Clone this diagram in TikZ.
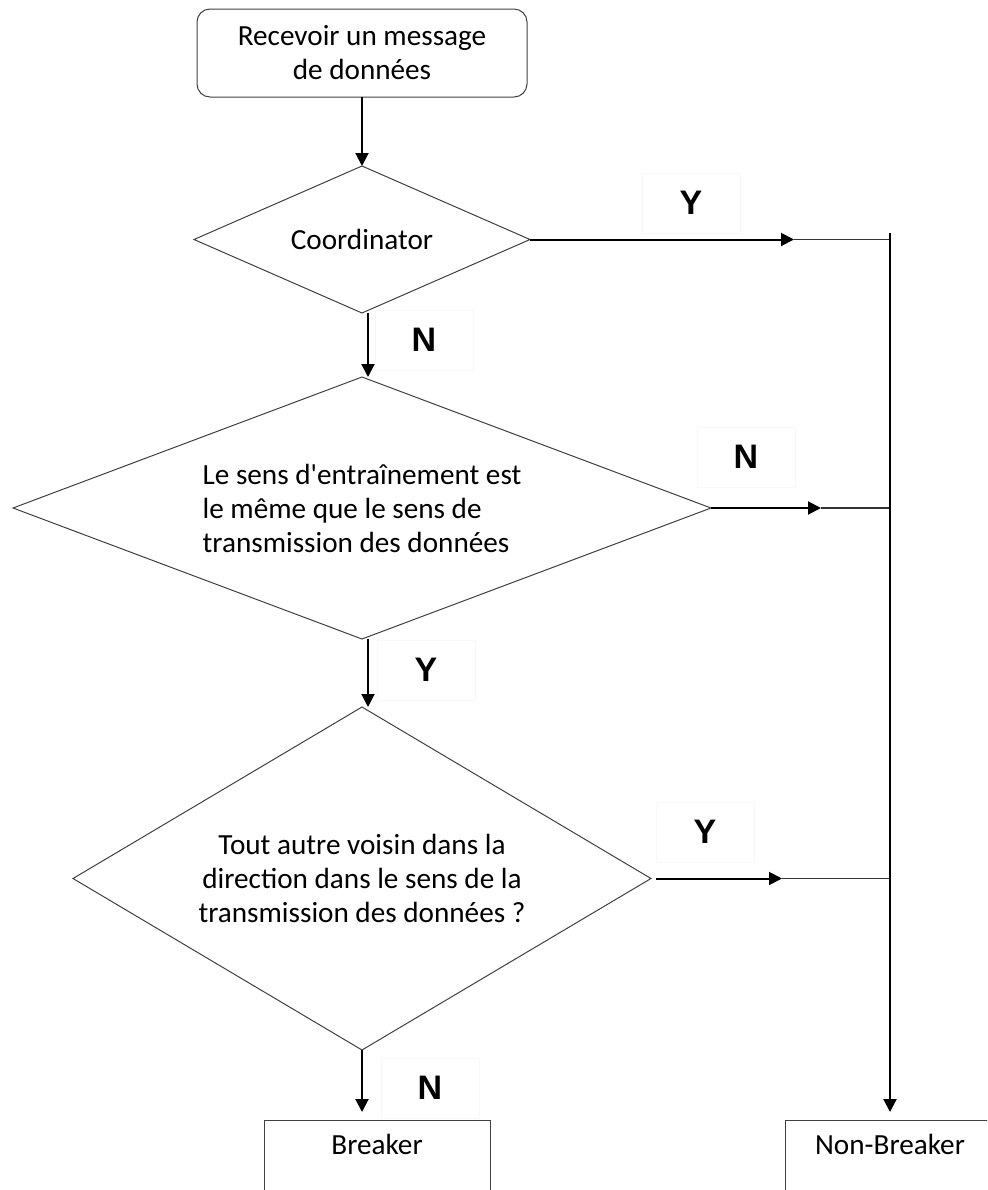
\documentclass[tikz,border=0pt]{standalone}
\usepackage{fontspec}
\setmainfont{Carlito}
\newfontfamily\yesnofont{Liberation Sans}
\usetikzlibrary{arrows.meta,positioning,shapes.geometric}

\begin{document}
\begin{tikzpicture}[
  x=0.5pt,y=-0.5pt,
  font=\fontsize{14.6}{17}\selectfont,
  node distance=34pt,
  >={Triangle[length=6.5pt,width=6.5pt]},
  startbox/.style={draw=black!75,line width=0.5pt,rounded corners=6.5pt,align=center,minimum width=165pt,minimum height=44pt,outer sep=0pt},
  dec/.style={draw=black!75,line width=0.5pt,diamond,inner sep=0pt,outer sep=0pt},
  endbox/.style={draw=black!75,line width=0.5pt,inner sep=3pt,outer sep=0pt,text height=14pt,text depth=60pt},
  yn/.style={draw=black!3,font=\yesnofont\bfseries\fontsize{17}{17}\selectfont,minimum width=49pt,minimum height=30pt},
  flow/.style={->,line width=1pt},
  tie/.style={line width=0.6pt,black!80}]
\path[use as bounding box,clip] (0,0) rectangle (987,1190);

\node[startbox] (recv) at (362,53) {Recevoir un message\\de données};
\node[dec,below=34.5pt of recv,aspect=2.29,minimum width=168pt,minimum height=73.5pt] (coord) {Coordinator};
\node[dec,below=32pt of coord,aspect=2.66,minimum width=349pt,minimum height=131pt,align=left] (sens) {Le sens d\textquotesingle entraînement est\\le même que le sens de\\transmission des données};
\node[dec,below=34pt of sens,aspect=1.69,minimum width=289pt,minimum height=171.5pt,align=center] (voisin) {Tout autre voisin dans la\\direction dans le sens de la\\transmission des données ?};
\node[endbox,below=35pt of voisin,xshift=7.5pt,minimum width=113pt] (brk) {Breaker};
\coordinate (bus) at (890,233);
\node[endbox,anchor=north,minimum width=105pt] (nonbrk) at (bus |- brk.north) {Non-Breaker};

\draw[flow] (recv) -- (coord);
\draw[flow] ([xshift=3pt]coord.south) -- ([xshift=3pt]sens.north);
\draw[flow] ([xshift=3pt]sens.south) -- ([xshift=3pt]voisin.north);
\draw[flow,shorten >=4pt] (voisin.south) -- (voisin.south |- brk.north);

\draw[flow] (coord.east) -- ++(132pt,0) coordinate (t1);
\draw[tie] (t1) -- (t1 -| bus);
\draw[flow] (sens.east) -- ++(55pt,0) coordinate (t2);
\draw[tie] (t2) -- (t2 -| bus);
\draw[flow] ([xshift=2.5pt]voisin.east) -- ++(63pt,0) coordinate (t3);
\draw[tie] (t3) -- (t3 -| bus);
\draw[flow,line width=1.1pt,shorten >=4pt] (bus) -- (nonbrk.north);

\node[yn] (y1) at (691,203) {Y};
\node[yn] (n1) at (424,340) {N};
\node[yn] (n2) at (746,457) {N};
\node[yn] (y2) at (426,670) {Y};
\node[yn] (y3) at (705,832) {Y};
\node[yn] (n3) at (430,1088) {N};
\end{tikzpicture}
\end{document}
